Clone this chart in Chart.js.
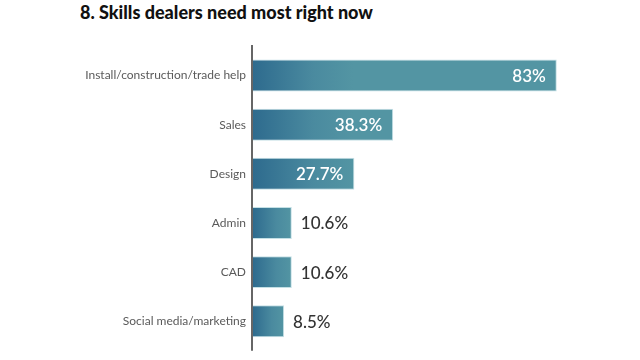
<!DOCTYPE html>
<html>
<head>
<meta charset="utf-8">
<script src="https://cdn.jsdelivr.net/npm/chart.js@4/dist/chart.umd.min.js"></script>
<style>
  html, body { margin: 0; padding: 0; background: #fff; }
  #wrap { position: relative; width: 640px; height: 360px; }
  #title {
    position: absolute; left: 80px; top: 1px;
    font-family: Lato, sans-serif; font-weight: 900; font-size: 18px;
    color: #111;
  }
  canvas { position: absolute; left: 0; top: 0; }
</style>
</head>
<body>
<div id="wrap">
  <div id="title">8. Skills dealers need most right now</div>
  <canvas id="skillsChart" width="640" height="360"></canvas>
</div>
<script>
// data
const skills = ['Install/construction/trade help', 'Sales', 'Design', 'Admin', 'CAD', 'Social media/marketing'];
const shares = [83, 38.3, 27.7, 10.6, 10.6, 8.5];
const shareLabels = ['83%', '38.3%', '27.7%', '10.6%', '10.6%', '8.5%'];

document.addEventListener("DOMContentLoaded", function() {
    const ctx = document.getElementById('skillsChart').getContext('2d');

    // bar gradient, dark blue at the axis to teal
    function barFill(c) {
        const chart = c.chart;
        if (!chart.chartArea) return '#5395a3';
        const xs = chart.scales.x;
        const x0 = xs.getPixelForValue(0);
        const x1 = xs.getPixelForValue(c.raw);
        const g = chart.ctx.createLinearGradient(x0, 0, x0 + Math.min(x1 - x0, 100), 0);
        g.addColorStop(0, '#2e6b8e');
        g.addColorStop(0.6, '#4a8a9f');
        g.addColorStop(1, '#5395a3');
        return g;
    }

    // value labels: white inside long bars, dark outside short ones
    const valueLabels = {
        id: 'valueLabels',
        afterDatasetsDraw(chart) {
            const c = chart.ctx;
            const meta = chart.getDatasetMeta(0);
            c.save();
            c.textBaseline = 'middle';
            meta.data.forEach((bar, i) => {
                const v = shares[i];
                if (v >= 20) {
                    c.font = '600 17px Lato, sans-serif';
                    c.fillStyle = '#ffffff';
                    c.textAlign = 'right';
                    c.fillText(shareLabels[i], bar.x - 11, bar.y + 1);
                } else {
                    c.font = '500 17px Lato, sans-serif';
                    c.fillStyle = '#333333';
                    c.textAlign = 'left';
                    c.fillText(shareLabels[i], bar.x + 9, bar.y + 1);
                }
            });
            c.restore();
        }
    };

    // vertical axis line, a bit longer than the plot area
    const axisLine = {
        id: 'axisLine',
        afterDatasetsDraw(chart) {
            const a = chart.chartArea;
            const x = chart.scales.x.getPixelForValue(0);
            const c = chart.ctx;
            c.save();
            c.strokeStyle = '#666666';
            c.lineWidth = 2;
            c.beginPath();
            c.moveTo(x - 1, a.top - 6);
            c.lineTo(x - 1, a.bottom + 5);
            c.stroke();
            c.restore();
        }
    };

    new Chart(ctx, {
        type: 'bar',
        data: {
            labels: skills,
            datasets: [{
                data: shares,
                backgroundColor: barFill,
                borderColor: '#c4e0e5',
                borderWidth: { top: 1, right: 1, bottom: 1, left: 0 },
                borderSkipped: 'left',
                barPercentage: 0.65,
                categoryPercentage: 1.0
            }]
        },
        options: {
            indexAxis: 'y',
            responsive: false,
            animation: false,
            layout: { padding: { left: 0, right: 21, top: 51, bottom: 12 } },
            plugins: {
                legend: { display: false },
                tooltip: { enabled: false }
            },
            scales: {
                x: {
                    min: 0, max: 100,
                    display: false
                },
                y: {
                    grid: { display: false, drawTicks: false },
                    border: { display: false },
                    afterFit(scale) { scale.width = 253; },
                    ticks: {
                        padding: 7,
                        color: '#5a5a5a',
                        font: { family: 'Lato', size: 12 }
                    }
                }
            }
        },
        plugins: [valueLabels, axisLine]
    });
});
</script>
</body>
</html>
